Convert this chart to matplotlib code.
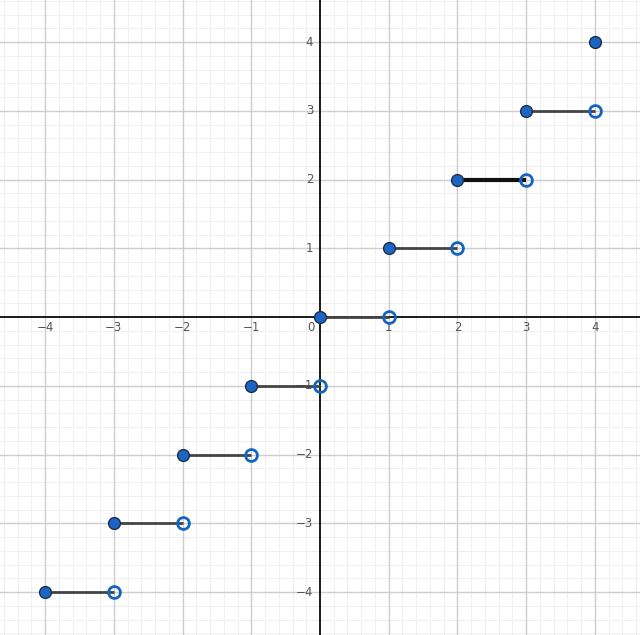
import matplotlib
matplotlib.use("Agg")
import matplotlib.pyplot as plt
import numpy as np

# Data: floor function steps
step_values = [-4, -3, -2, -1, 0, 1, 2, 3]      # y-value of each step, from x=n to x=n+1
closed_x = [-4, -3, -2, -1, 0, 1, 2, 3, 4]
closed_y = [-4, -3, -2, -1, 0, 1, 2, 3, 4]
open_x = [-3, -2, -1, 0, 1, 2, 3, 4]
open_y = [-4, -3, -2, -1, 0, 1, 2, 3]
x_ticks = [-4, -3, -2, -1, 0, 1, 2, 3, 4]
y_ticks = [-4, -3, -2, -1, 1, 2, 3, 4]

fig = plt.figure(figsize=(6.4, 6.35), dpi=100)
ax = fig.add_axes([0, 0, 1, 1])
ax.set_xlim(-4.655, 4.655)
ax.set_ylim(-4.625, 4.611)
ax.set_axis_off()

# grid
for v in np.arange(-4.6, 4.7, 0.2):
    if abs(v - round(v)) > 1e-6:
        ax.axvline(v, color="#f0f0f0", lw=0.8, zorder=0)
        ax.axhline(v, color="#f0f0f0", lw=0.8, zorder=0)
for v in range(-4, 5):
    if v != 0:
        ax.axvline(v, color="#cdcdcd", lw=1.0, zorder=0.5)
        ax.axhline(v, color="#cdcdcd", lw=1.0, zorder=0.5)
ax.axvline(0, color="#1a1a1a", lw=1.4, zorder=1)
ax.axhline(0, color="#1a1a1a", lw=1.4, zorder=1)

# tick labels
lab_kw = dict(color="#555555", fontsize=8.5, zorder=2)
for t in x_ticks:
    txt = "\u2212" + str(abs(t)) if t < 0 else str(t)
    if t == 0:
        ax.text(-0.13, -0.15, txt, ha="center", va="center", **lab_kw)
    else:
        ax.text(t, -0.15, txt, ha="center", va="center", **lab_kw)
for t in y_ticks:
    txt = "\u2212" + str(abs(t)) if t < 0 else str(t)
    ax.text(-0.1, t, txt, ha="right", va="center", **lab_kw)

# step segments
for n in step_values:
    lw = 3.0 if n == 2 else 2.0
    col = "#111111" if n == 2 else "#444444"
    ax.plot([n, n + 1], [n, n], color=col, lw=lw, solid_capstyle="butt", zorder=3)

# open circles
ax.plot(open_x, open_y, "o", ms=8.5, mfc="none", mec="#1565c0", mew=2.0,
        ls="none", zorder=4)
# closed points
ax.plot(closed_x, closed_y, "o", ms=8.5, mfc="#1a66c2", mec="#1b2f4a", mew=1.0,
        ls="none", zorder=5)

fig.savefig("out.png", dpi=100)
